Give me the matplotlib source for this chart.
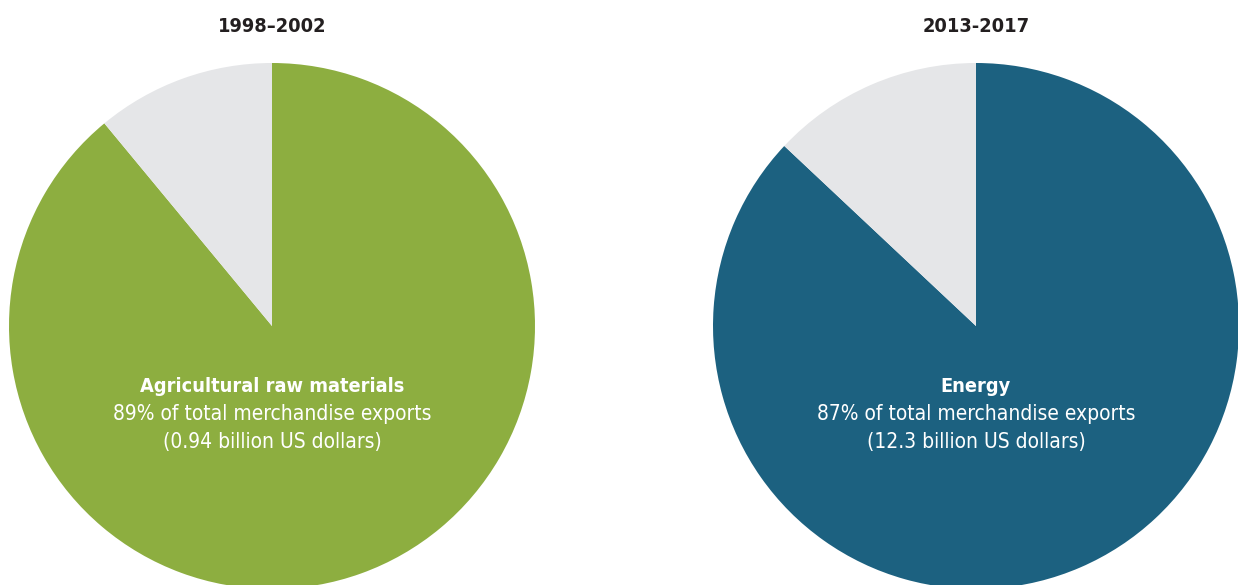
import matplotlib.pyplot as plt
import matplotlib

matplotlib.rcParams['font.family'] = ['DejaVu Sans']
matplotlib.rcParams['font.stretch'] = 'condensed'

# 수출 구성 비중 (%)
periods = ['1998–2002', '2013-2017']
main_share = [89, 87]
other_share = [11, 13]
main_names = ['Agricultural raw materials', 'Energy']
main_values = ['0.94', '12.3']
main_colors = ['#8DAE40', '#1C6180']
other_color = '#E5E6E8'

W, H = 1238, 585
fig = plt.figure(figsize=(W / 100, H / 100), dpi=100)

r = 263
centers = [(272, 326), (976, 326)]

for i, (cx, cy) in enumerate(centers):
    ax = fig.add_axes([(cx - r) / W, (H - cy - r) / H, 2 * r / W, 2 * r / H])
    ax.pie([main_share[i], other_share[i]], colors=[main_colors[i], other_color],
           startangle=90, counterclock=False, radius=1,
           wedgeprops=dict(linewidth=0))
    ax.set_xlim(-1, 1)
    ax.set_ylim(-1, 1)
    ax.set_aspect('equal')
    ax.axis('off')
    ax.text(0, -0.23, main_names[i], ha='center', va='center', color='white',
            fontsize=14.3, fontweight='bold')
    ax.text(0, -0.335, f'{main_share[i]}% of total merchandise exports',
            ha='center', va='center', color='white', fontsize=15)
    ax.text(0, -0.44, f'({main_values[i]} billion US dollars)',
            ha='center', va='center', color='white', fontsize=15)
    fig.text(cx / W, 1 - 26 / H, periods[i], ha='center', va='center',
             color='#231F20', fontsize=14.3, fontweight='bold')

plt.savefig('out.png', dpi=100)
